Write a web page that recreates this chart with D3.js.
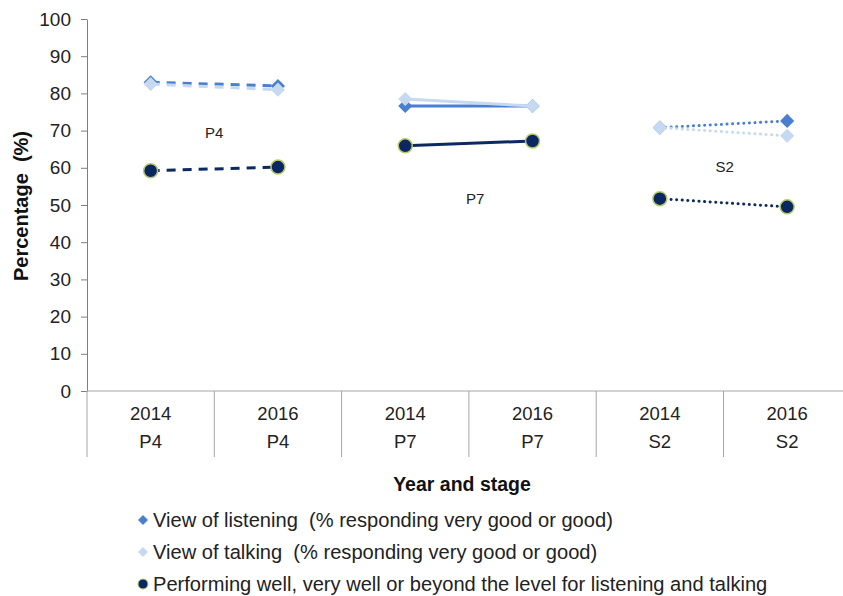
<!DOCTYPE html>
<html><head><meta charset="utf-8">
<script src="https://cdn.jsdelivr.net/npm/d3@7"></script>
<style>
html,body{margin:0;padding:0;background:#fff;overflow:hidden}
text{font-family:"Liberation Sans",Arial,sans-serif;white-space:pre}
</style></head>
<body><svg id="c" width="843" height="596"></svg>
<script>
const years = ["2014","2016","2014","2016","2014","2016"];
const stages = ["P4","P4","P7","P7","S2","S2"];
const yTicks = [0,10,20,30,40,50,60,70,80,90,100];
const listening = [83, 82, 76.6, 76.6, 70.8, 72.6];
const talking = [82.5, 81, 78.5, 76.6, 70.8, 68.6];
const performing = [59.2, 60.2, 65.9, 67.2, 51.7, 49.5];
const stageLabels = ["P4","P7","S2"];
const stageLabelValues = [69.2, 51.3, 60];
const legendLabels = [
  "View of listening  (% responding very good or good)",
  "View of talking  (% responding very good or good)",
  "Performing well, very well or beyond the level for listening and talking"
];

(function(){
const svg = d3.select("#c");
const mLeft = 87, mTop = 19, mBottom = 391, catW = 127.3;
const x = d3.scaleBand().domain(d3.range(years.length)).range([mLeft, mLeft + catW*years.length]).padding(0);
const y = d3.scaleLinear().domain([0,100]).range([mBottom, mTop]);
const cx = i => x(i) + x.bandwidth()/2;

const grey = "#a6a6a6";
const ya = svg.append("g").attr("transform",`translate(${mLeft},0)`)
  .call(d3.axisLeft(y).tickValues(yTicks).tickSize(6).tickSizeOuter(0));
ya.select(".domain").attr("stroke","#7f7f7f");
ya.selectAll(".tick line").attr("stroke","#7f7f7f");
ya.selectAll(".tick text").attr("font-size",19).attr("fill","#222").attr("x",-16).attr("font-family","Liberation Sans, Arial, sans-serif");

svg.append("line").attr("x1",mLeft).attr("x2",843).attr("y1",mBottom).attr("y2",mBottom).attr("stroke",grey);
const seps = d3.range(years.length+1).map(i => mLeft + catW*i);
svg.selectAll(".sep").data(seps).join("line").attr("class","sep")
  .attr("x1",d=>d).attr("x2",d=>d).attr("y1",mBottom).attr("y2",457).attr("stroke",grey);
svg.selectAll(".yr").data(years).join("text").attr("class","yr")
  .attr("x",(d,i)=>cx(i)).attr("y",420).attr("text-anchor","middle").attr("font-size",18.5).attr("fill","#222").text(d=>d);
svg.selectAll(".st").data(stages).join("text").attr("class","st")
  .attr("x",(d,i)=>cx(i)).attr("y",448).attr("text-anchor","middle").attr("font-size",18.5).attr("fill","#222").text(d=>d);

svg.append("text").attr("transform",`translate(28,206) rotate(-90)`).attr("text-anchor","middle")
  .attr("font-size",20).attr("font-weight","bold").attr("fill","#111").text("Percentage  (%)");
svg.append("text").attr("x",462).attr("y",491).attr("text-anchor","middle")
  .attr("font-size",19.5).attr("font-weight","bold").attr("fill","#111").text("Year and stage");

const cols = {list:"#4a7fcf", talk:"#c6d9f1", perf:"#0d2a5e"};
const dashes = ["9,7", null, "0.1,5.5"];
const pairs = [0,1,2];

function drawSeries(vals, color, width, kind){
  pairs.forEach(p => {
    const i0 = p*2, i1 = p*2+1;
    svg.append("line").attr("x1",cx(i0)).attr("y1",y(vals[i0])).attr("x2",cx(i1)).attr("y2",y(vals[i1]))
      .attr("stroke",color).attr("stroke-width",width).attr("stroke-linecap",p===2?"round":"butt")
      .attr("stroke-dasharray",dashes[p]);
  });
  vals.forEach((v,i) => {
    if(kind==="diamond"){
      svg.append("path").attr("d",d3.symbol(d3.symbolSquare, 100)())
        .attr("transform",`translate(${cx(i)},${y(v)}) rotate(45)`).attr("fill",color);
    } else {
      svg.append("circle").attr("cx",cx(i)).attr("cy",y(v)).attr("r",7).attr("fill","#0b2763")
        .attr("stroke","#b5c969").attr("stroke-width",1.5);
    }
  });
}
drawSeries(listening, cols.list, 3, "diamond");
drawSeries(talking, cols.talk, 3, "diamond");
drawSeries(performing, cols.perf, 3, "circle");

const labelPos = [0.5, 2.55, 4.51];
stageLabels.forEach((s,k) => {
  svg.append("text").attr("x", mLeft + catW*(labelPos[k]+0.5)).attr("y", y(stageLabelValues[k]))
    .attr("text-anchor","middle").attr("dominant-baseline","middle").attr("font-size",15).attr("fill","#222").text(s);
});

const ly = [520, 552, 584];
legendLabels.forEach((t,k) => {
  if(k<2){
    svg.append("path").attr("d",d3.symbol(d3.symbolSquare,50)()).attr("transform",`translate(143,${ly[k]}) rotate(45)`)
      .attr("fill", k===0?cols.list:cols.talk);
  } else {
    svg.append("circle").attr("cx",143).attr("cy",ly[k]).attr("r",5).attr("fill","#0b2763").attr("stroke","#b5c969").attr("stroke-width",1);
  }
  svg.append("text").attr("x",153).attr("y",ly[k]+6.5).attr("font-size",20.1).attr("fill","#222").text(t);
});
})();
</script></body></html>
